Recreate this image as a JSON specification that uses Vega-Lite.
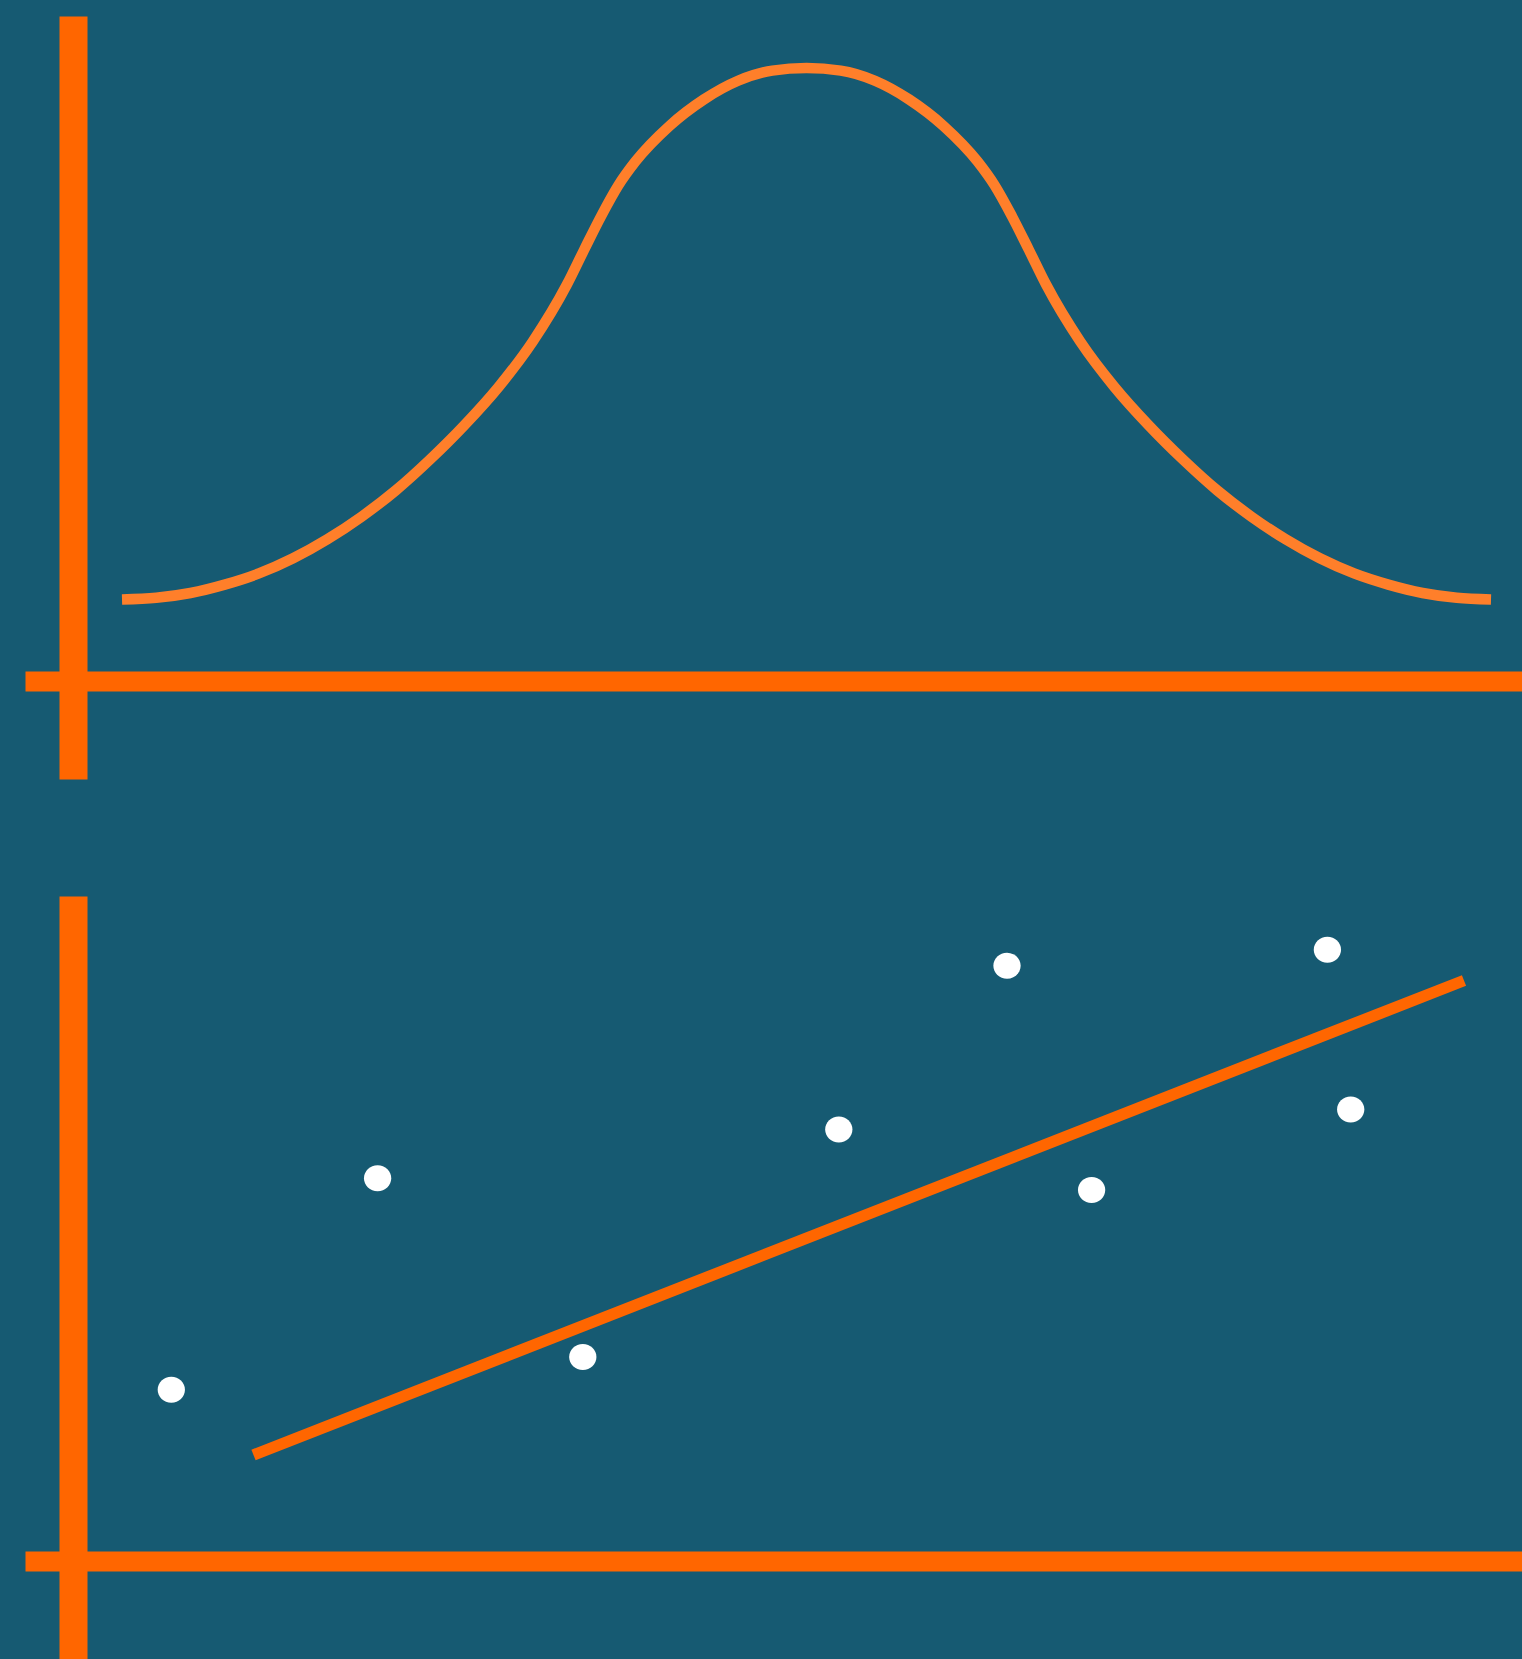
{
  "$schema": "https://vega.github.io/schema/vega-lite/v6.json",
  "background": "#165a72",
  "padding": {"left": 25, "top": 16, "right": 0, "bottom": 0},
  "spacing": 117,
  "config": {
    "view": {"stroke": null},
    "axis": {"labels": false, "ticks": false, "grid": false, "title": null, "domainColor": "#ff6600", "domainCap": "butt"},
    "axisX": {"offset": -98, "domainWidth": 20},
    "axisY": {"offset": -48, "domainWidth": 28}
  },
  "datasets": {
    "curve": [
      {"x": -3.0, "y": 0.0004}, {"x": -2.85, "y": 0.0017}, {"x": -2.7, "y": 0.0053}, {"x": -2.55, "y": 0.0116},
      {"x": -2.4, "y": 0.0200}, {"x": -2.25, "y": 0.0314}, {"x": -2.1, "y": 0.0457}, {"x": -1.95, "y": 0.0627},
      {"x": -1.8, "y": 0.0825}, {"x": -1.65, "y": 0.1057}, {"x": -1.5, "y": 0.1314}, {"x": -1.35, "y": 0.1602},
      {"x": -1.2, "y": 0.1944}, {"x": -1.05, "y": 0.2373}, {"x": -0.975, "y": 0.2633}, {"x": -0.9, "y": 0.2888},
      {"x": -0.825, "y": 0.3118}, {"x": -0.75, "y": 0.3298}, {"x": -0.6, "y": 0.3567}, {"x": -0.45, "y": 0.3765},
      {"x": -0.3, "y": 0.3906}, {"x": -0.15, "y": 0.3982}, {"x": 0.0, "y": 0.4001},
      {"x": 0.15, "y": 0.3982}, {"x": 0.3, "y": 0.3906}, {"x": 0.45, "y": 0.3765}, {"x": 0.6, "y": 0.3567},
      {"x": 0.75, "y": 0.3298}, {"x": 0.825, "y": 0.3118}, {"x": 0.9, "y": 0.2888}, {"x": 0.975, "y": 0.2633},
      {"x": 1.05, "y": 0.2373}, {"x": 1.2, "y": 0.1944}, {"x": 1.35, "y": 0.1602}, {"x": 1.5, "y": 0.1314},
      {"x": 1.65, "y": 0.1057}, {"x": 1.8, "y": 0.0825}, {"x": 1.95, "y": 0.0627}, {"x": 2.1, "y": 0.0457},
      {"x": 2.25, "y": 0.0314}, {"x": 2.4, "y": 0.0200}, {"x": 2.55, "y": 0.0116}, {"x": 2.7, "y": 0.0053},
      {"x": 2.85, "y": 0.0017}, {"x": 3.0, "y": 0.0004}
    ],
    "points": [
      {"x": 0.983, "y": 1.712}, {"x": 3.046, "y": 3.827}, {"x": 5.098, "y": 2.040}, {"x": 7.658, "y": 4.314},
      {"x": 9.340, "y": 5.953}, {"x": 10.186, "y": 3.711}, {"x": 12.544, "y": 6.112}, {"x": 12.777, "y": 4.515}
    ],
    "fit": [
      {"x": 1.805, "y": 1.060}, {"x": 13.910, "y": 5.805}
    ]
  },
  "vconcat": [
    {
      "width": 1497,
      "height": 763,
      "data": {"name": "curve"},
      "mark": {"type": "line", "color": "#ff7f2a", "strokeWidth": 10.5, "strokeCap": "butt", "interpolate": "monotone"},
      "encoding": {
        "x": {"field": "x", "type": "quantitative", "scale": {"domain": [-3.4251, 3.1358], "nice": false, "zero": false}},
        "y": {"field": "y", "type": "quantitative", "scale": {"domain": [-0.1346, 0.4393], "nice": false, "zero": false}}
      }
    },
    {
      "width": 1497,
      "height": 763,
      "layer": [
        {
          "data": {"name": "fit"},
          "mark": {"type": "line", "color": "#ff6600", "strokeWidth": 11.5, "strokeCap": "butt"},
          "encoding": {
            "x": {"field": "x", "type": "quantitative", "scale": {"domain": [-0.48, 14.49], "nice": false, "zero": false}},
            "y": {"field": "y", "type": "quantitative", "scale": {"domain": [-0.98, 6.65], "nice": false, "zero": false}}
          }
        },
        {
          "data": {"name": "points"},
          "mark": {
            "type": "point",
            "shape": "M -1 0 C -1 -0.526 -0.552 -0.952 0 -0.952 C 0.552 -0.952 1 -0.526 1 0 C 1 0.526 0.552 0.952 0 0.952 C -0.552 0.952 -1 0.526 -1 0 Z",
            "filled": true,
            "color": "#ffffff",
            "opacity": 1,
            "strokeWidth": 0,
            "size": 745
          },
          "encoding": {
            "x": {"field": "x", "type": "quantitative"},
            "y": {"field": "y", "type": "quantitative"}
          }
        }
      ]
    }
  ]
}
